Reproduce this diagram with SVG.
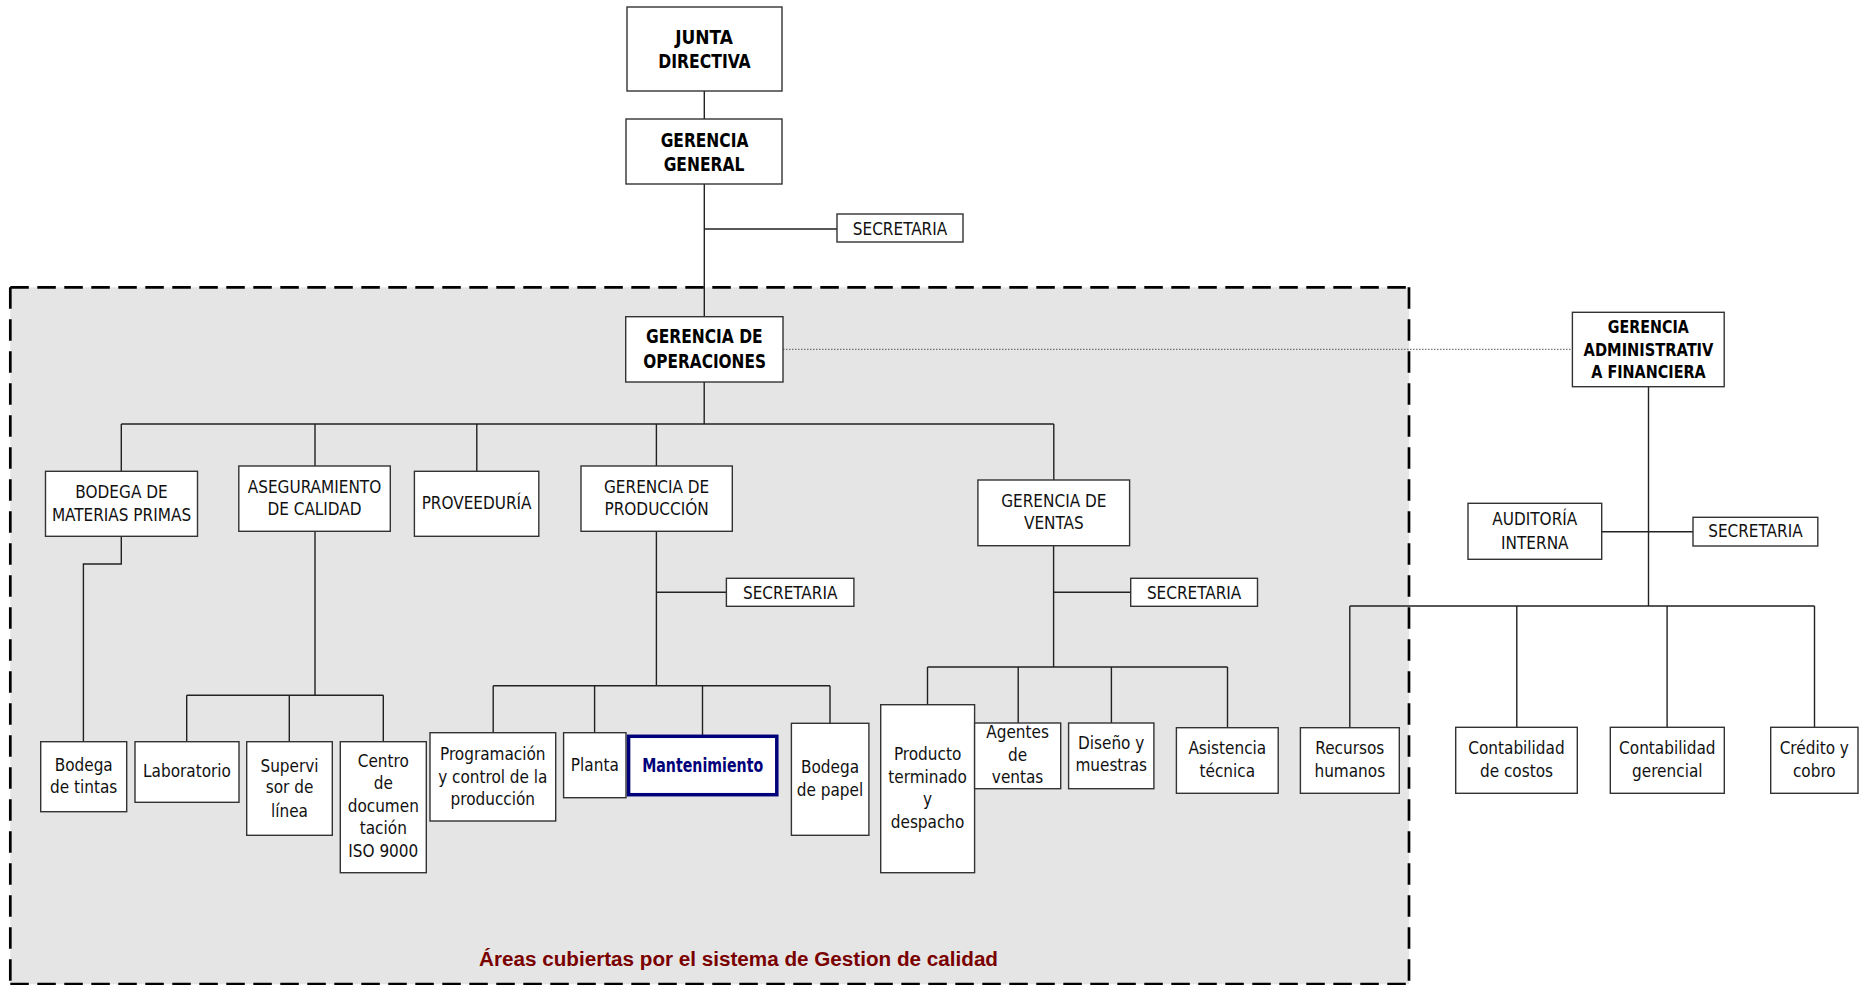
<svg xmlns="http://www.w3.org/2000/svg" width="1864" height="985" viewBox="0 0 1864 985">
<style>
.bx{fill:#fff;stroke:#333;stroke-width:1.4}
.mt{fill:#fff;stroke:#00007a;stroke-width:3.5}
.t{font-family:"DejaVu Sans Condensed","DejaVu Sans",sans-serif;font-stretch:condensed;font-size:17px;fill:#111;text-anchor:middle}
.b{font-family:"DejaVu Sans Condensed","DejaVu Sans",sans-serif;font-stretch:condensed;font-weight:bold;font-size:20px;fill:#000;text-anchor:middle}
.bs{font-size:17.5px}
.nv{fill:#00007a;font-size:19px}
.cap{font-family:"Liberation Sans",Arial,sans-serif;font-weight:bold;font-size:20px;fill:#7a0000}
.c{fill:none;stroke:#222;stroke-width:1.4}
.dot{fill:none;stroke:#555;stroke-width:1;stroke-dasharray:1.5 1.5}
.dh{stroke:#000;stroke-width:2.7;stroke-dasharray:18.5 8.5}
.dv{stroke:#000;stroke-width:2.7;stroke-dasharray:21.5 10.5}
</style>
<rect width="1864" height="985" fill="#fff"/>
<g id="quality-area">
<rect x="10.3" y="287.3" width="1398.7" height="697" fill="#e5e5e5"/>
<line class="dh" x1="10.3" y1="287.3" x2="1409" y2="287.3"/>
<line class="dh" x1="10.3" y1="984" x2="1409" y2="984"/>
<line class="dv" x1="10.3" y1="287.3" x2="10.3" y2="984"/>
<line class="dv" x1="1409" y1="287.3" x2="1409" y2="984"/>
<text class="cap" x="738.5" y="966" text-anchor="middle" textLength="519" lengthAdjust="spacingAndGlyphs">Áreas cubiertas por el sistema de Gestion de calidad</text>
</g>
<g id="connectors">
<path class="c" d="M704.3 91V119M704.3 184V316.7M704.3 229H837"/>
<path class="dot" d="M783 349.3H1572.4"/>
<path class="c" d="M704.2 382V424M121.3 424H1053.8M121.3 424V471.3M315 424V466M476.8 424V471.3M656.4 424V466M1053.8 424V480"/>
<path class="c" d="M121.3 536.3V564H83.4V741.7"/>
<path class="c" d="M315 531.3V695.3M186.7 695.3H383.3M186.7 695.3V741.7M289.3 695.3V741.7M383.3 695.3V741.7"/>
<path class="c" d="M656.4 531.3V685.7M656.4 592.3H726.4M493.2 685.7H830M493.2 685.7V732.7M594.6 685.7V732.7M702.5 685.7V736.3M830 685.7V723.3"/>
<path class="c" d="M1053.6 545.7V667M1053.6 592.3H1130.7M927.5 667H1227.5M927.5 667V704.7M1018.2 667V723M1111.4 667V723M1227.5 667V727.7"/>
<path class="c" d="M1648.5 386.7V606M1601.7 531.7H1693M1349.8 606H1814.5M1349.8 606V727.7M1516.8 606V727.3M1667.1 606V727.3M1814.5 606V727.3"/>
</g>
<g id="junta-directiva"><rect class="bx" x="627" y="7" width="155" height="84"/><text class="b" x="704" y="44" textLength="57.7" lengthAdjust="spacingAndGlyphs">JUNTA</text><text class="b" x="704.5" y="68.3" textLength="92.4" lengthAdjust="spacingAndGlyphs">DIRECTIVA</text></g>
<g id="gerencia-general"><rect class="bx" x="626" y="119" width="156" height="65"/><text class="b" x="704.5" y="146.7" textLength="87.7" lengthAdjust="spacingAndGlyphs">GERENCIA</text><text class="b" x="704" y="170.7" textLength="80.7" lengthAdjust="spacingAndGlyphs">GENERAL</text></g>
<g id="secretaria-general"><rect class="bx" x="837" y="214" width="126" height="28"/><text class="t" x="900" y="235">SECRETARIA</text></g>
<g id="gerencia-operaciones"><rect class="bx" x="625.7" y="316.7" width="157.3" height="65.3"/><text class="b" x="704.3" y="343.3" textLength="116.7" lengthAdjust="spacingAndGlyphs">GERENCIA DE</text><text class="b" x="704.6" y="368.3" textLength="122.7" lengthAdjust="spacingAndGlyphs">OPERACIONES</text></g>
<g id="gerencia-administrativa"><rect class="bx" x="1572.4" y="312.3" width="151.8" height="74.4"/><text class="b bs" x="1648.3" y="333.3" textLength="80.9" lengthAdjust="spacingAndGlyphs">GERENCIA</text><text class="b bs" x="1648.5" y="355.7" textLength="129.8" lengthAdjust="spacingAndGlyphs">ADMINISTRATIV</text><text class="b bs" x="1648.5" y="378.3" textLength="114.4" lengthAdjust="spacingAndGlyphs">A FINANCIERA</text></g>
<g id="bodega-materias"><rect class="bx" x="45.5" y="471.3" width="152" height="65"/><text class="t" x="121.5" y="498.3">BODEGA DE</text><text class="t" x="121.5" y="520.7">MATERIAS PRIMAS</text></g>
<g id="aseguramiento"><rect class="bx" x="238.8" y="466" width="151.5" height="65.3"/><text class="t" x="314.5" y="493.3">ASEGURAMIENTO</text><text class="t" x="314.5" y="515.3">DE CALIDAD</text></g>
<g id="proveeduria"><rect class="bx" x="414.4" y="471.3" width="124.4" height="65"/><text class="t" x="476.6" y="509.3">PROVEEDURÍA</text></g>
<g id="gerencia-produccion"><rect class="bx" x="581" y="466" width="151.3" height="65.3"/><text class="t" x="656.6" y="493.3">GERENCIA DE</text><text class="t" x="656.6" y="515.3">PRODUCCIÓN</text></g>
<g id="gerencia-ventas"><rect class="bx" x="977.9" y="480" width="151.7" height="65.7"/><text class="t" x="1053.8" y="506.7">GERENCIA DE</text><text class="t" x="1053.8" y="529.3">VENTAS</text></g>
<g id="secretaria-produccion"><rect class="bx" x="726.4" y="578.3" width="127.5" height="28"/><text class="t" x="790.2" y="599.3">SECRETARIA</text></g>
<g id="secretaria-ventas"><rect class="bx" x="1130.7" y="578.3" width="126.8" height="28"/><text class="t" x="1194.1" y="599.3">SECRETARIA</text></g>
<g id="auditoria"><rect class="bx" x="1468" y="503.3" width="133.7" height="56"/><text class="t" x="1534.8" y="525">AUDITORÍA</text><text class="t" x="1534.8" y="549.3">INTERNA</text></g>
<g id="secretaria-admin"><rect class="bx" x="1693" y="517.3" width="124.8" height="28.7"/><text class="t" x="1755.4" y="537.3">SECRETARIA</text></g>
<g id="bodega-tintas"><rect class="bx" x="40.7" y="741.7" width="86" height="70"/><text class="t" x="83.7" y="770.7">Bodega</text><text class="t" x="83.7" y="793.3">de tintas</text></g>
<g id="laboratorio"><rect class="bx" x="135" y="741.7" width="104" height="60.6"/><text class="t" x="187" y="777.3">Laboratorio</text></g>
<g id="supervisor"><rect class="bx" x="246.7" y="741.7" width="85.6" height="93.6"/><text class="t" x="289.5" y="771.7">Supervi</text><text class="t" x="289.5" y="793.3">sor de</text><text class="t" x="289.5" y="816.7">línea</text></g>
<g id="centro-documentacion"><rect class="bx" x="340.3" y="741.7" width="86" height="131"/><text class="t" x="383.3" y="766.7">Centro</text><text class="t" x="383.3" y="789.2">de</text><text class="t" x="383.3" y="811.7">documen</text><text class="t" x="383.3" y="834.2">tación</text><text class="t" x="383.3" y="856.7">ISO 9000</text></g>
<g id="programacion"><rect class="bx" x="430" y="732.7" width="125.7" height="88.3"/><text class="t" x="492.8" y="760">Programación</text><text class="t" x="492.8" y="782.5">y control de la</text><text class="t" x="492.8" y="805">producción</text></g>
<g id="planta"><rect class="bx" x="563.6" y="732.7" width="62.4" height="65"/><text class="t" x="594.8" y="771">Planta</text></g>
<g id="mantenimiento"><rect class="mt" x="628.6" y="736.3" width="148.2" height="58.4"/><text class="b nv" x="702.7" y="771.7" textLength="121" lengthAdjust="spacingAndGlyphs">Mantenimiento</text></g>
<g id="bodega-papel"><rect class="bx" x="791.4" y="723.3" width="77.5" height="112"/><text class="t" x="830" y="773">Bodega</text><text class="t" x="830" y="795.5">de papel</text></g>
<g id="producto-terminado"><rect class="bx" x="880.7" y="704.7" width="93.9" height="168"/><text class="t" x="927.6" y="760">Producto</text><text class="t" x="927.6" y="782.5">terminado</text><text class="t" x="927.6" y="805">y</text><text class="t" x="927.6" y="827.5">despacho</text></g>
<g id="agentes-ventas"><rect class="bx" x="974.6" y="723" width="86.1" height="65.7"/><text class="t" x="1017.6" y="738">Agentes</text><text class="t" x="1017.6" y="760.5">de</text><text class="t" x="1017.6" y="783">ventas</text></g>
<g id="diseno-muestras"><rect class="bx" x="1068.6" y="723" width="85.3" height="65.7"/><text class="t" x="1111.2" y="749.3">Diseño y</text><text class="t" x="1111.2" y="771.3">muestras</text></g>
<g id="asistencia-tecnica"><rect class="bx" x="1176.4" y="727.7" width="101.8" height="65.6"/><text class="t" x="1227.3" y="754">Asistencia</text><text class="t" x="1227.3" y="776.7">técnica</text></g>
<g id="recursos-humanos"><rect class="bx" x="1300.4" y="727.7" width="98.9" height="65.6"/><text class="t" x="1349.8" y="754.3">Recursos</text><text class="t" x="1349.8" y="776.7">humanos</text></g>
<g id="contabilidad-costos"><rect class="bx" x="1455.7" y="727.3" width="121.6" height="66"/><text class="t" x="1516.5" y="754">Contabilidad</text><text class="t" x="1516.5" y="776.7">de costos</text></g>
<g id="contabilidad-gerencial"><rect class="bx" x="1610.3" y="727.3" width="114" height="66"/><text class="t" x="1667.3" y="754">Contabilidad</text><text class="t" x="1667.3" y="776.7">gerencial</text></g>
<g id="credito-cobro"><rect class="bx" x="1770.7" y="727.3" width="87.3" height="66"/><text class="t" x="1814.3" y="754">Crédito y</text><text class="t" x="1814.3" y="776.7">cobro</text></g>
</svg>
